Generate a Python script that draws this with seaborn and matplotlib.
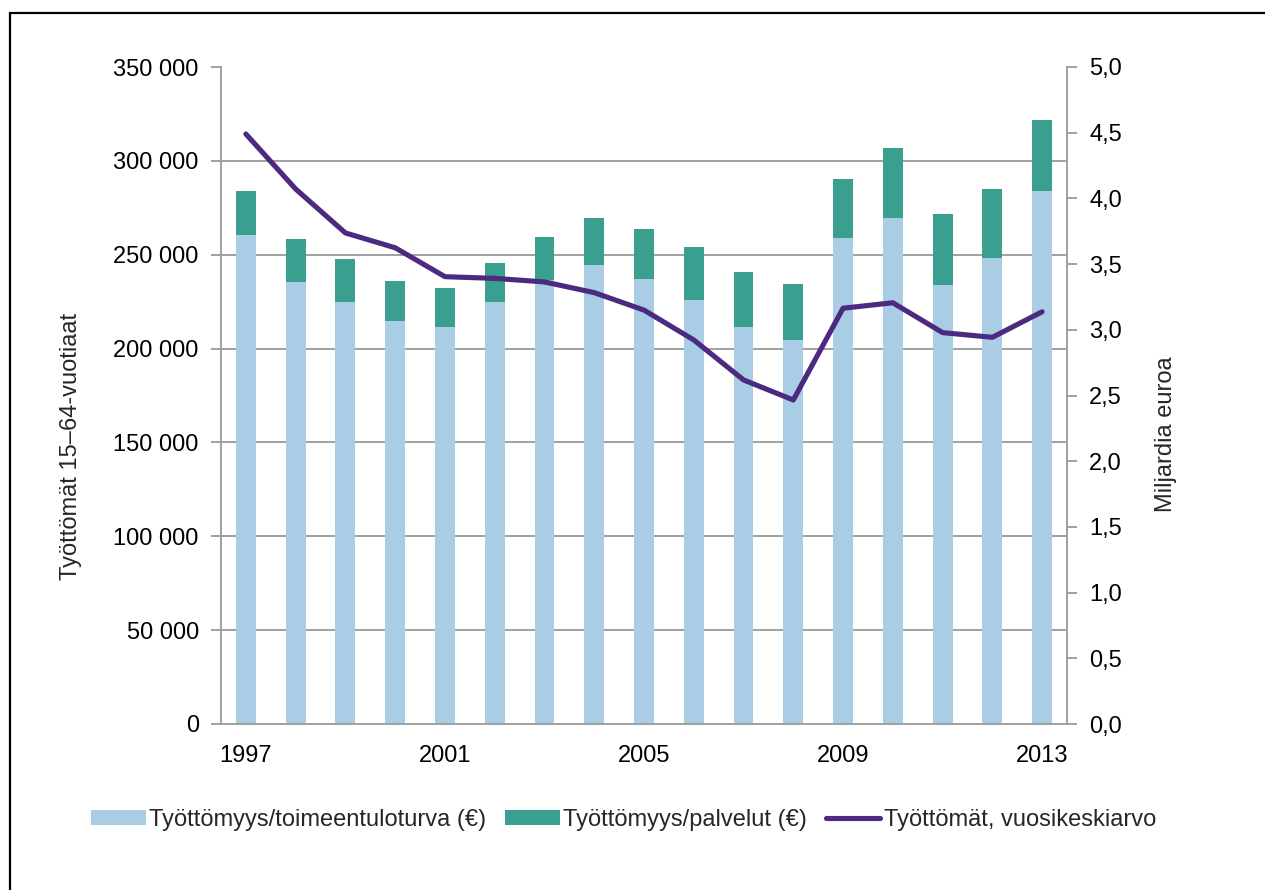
import numpy as np
import matplotlib
matplotlib.use("Agg")
import matplotlib.pyplot as plt
import seaborn as sns
from matplotlib.patches import Patch, Rectangle
from matplotlib.lines import Line2D
from matplotlib.ticker import FuncFormatter, FixedLocator

years = [str(y) for y in range(1997, 2014)]
# billions of euros
toimeentuloturva = [3.72, 3.36, 3.21, 3.07, 3.02, 3.21, 3.38, 3.49, 3.39,
                    3.23, 3.02, 2.92, 3.70, 3.85, 3.34, 3.55, 4.06]
palvelut = [0.34, 0.33, 0.33, 0.30, 0.30, 0.30, 0.33, 0.36, 0.38,
            0.40, 0.42, 0.43, 0.45, 0.53, 0.54, 0.52, 0.54]
# unemployed, annual average
tyottomat = [314300, 285000, 261600, 253700, 238300, 237400, 235500, 229800, 220500,
             204600, 183300, 172600, 221500, 224400, 208500, 206000, 219600]
shown_years = ["1997", "2001", "2005", "2009", "2013"]

light_blue = "#A9CDE5"
teal = "#3A9F8F"
purple = "#4B2A7F"
axis_gray = "#A0A0A0"

sns.set_style("white")
plt.rcParams["font.family"] = ["Liberation Sans", "DejaVu Sans"]

fig = plt.figure(figsize=(12.65, 8.9), dpi=100)
ax = fig.add_axes([221 / 1265, 1 - 724 / 890, 846 / 1265, 657 / 890])
ax2 = ax.twinx()

totals = [a + b for a, b in zip(toimeentuloturva, palvelut)]
sns.barplot(x=years, y=totals, color=teal, width=0.4, saturation=1,
            errorbar=None, linewidth=0, ax=ax)
sns.barplot(x=years, y=toimeentuloturva, color=light_blue, width=0.4, saturation=1,
            errorbar=None, linewidth=0, ax=ax)

idx = np.arange(len(years))
sns.lineplot(x=idx, y=tyottomat, color=purple, linewidth=3.7, ax=ax2,
             solid_capstyle="round", solid_joinstyle="round")

# right axis (euros) for bars, left axis (persons) for line
ax.yaxis.tick_right()
ax.yaxis.set_label_position("right")
ax2.yaxis.tick_left()
ax2.yaxis.set_label_position("left")

ax.set_ylim(0, 5)
ax.set_yticks(np.arange(0, 5.01, 0.5))
ax.yaxis.set_major_formatter(FuncFormatter(lambda v, p: f"{v:.1f}".replace(".", ",")))
ax.yaxis.set_minor_locator(FixedLocator(np.linspace(0, 5, 8)))
ax.grid(False)
ax.grid(which="minor", axis="y", color=axis_gray, linewidth=1.4)
ax.set_axisbelow(True)

ax2.set_ylim(0, 350000)
ax2.set_yticks(range(0, 350001, 50000))
ax2.yaxis.set_major_formatter(FuncFormatter(lambda v, p: f"{int(v):,}".replace(",", " ")))
ax2.grid(False)

ax.set_xlim(-0.5, len(years) - 0.5)
ax.set_xticks([years.index(y) for y in shown_years])
ax.set_xticklabels(shown_years)
ax.set_xticks(np.arange(-0.5, len(years), 1), minor=True)
ax.set_xlabel("")

fs = 17
ax.tick_params(axis="x", which="major", length=0, pad=15, labelsize=fs, colors="black")
ax.tick_params(axis="x", which="minor", length=7, width=1.4, color=axis_gray, direction="out")
ax.tick_params(axis="y", which="major", length=7, width=1.4, color=axis_gray,
               direction="out", pad=9, labelsize=fs, labelcolor="black")
ax.tick_params(axis="y", which="minor", length=0)
ax2.tick_params(axis="y", which="major", length=7, width=1.4, color=axis_gray,
                direction="out", pad=9, labelsize=fs, labelcolor="black")

for s in ["top", "left"]:
    ax.spines[s].set_visible(False)
for s in ["right", "bottom"]:
    ax.spines[s].set_color(axis_gray)
    ax.spines[s].set_linewidth(1.4)
for s in ["top", "right", "bottom"]:
    ax2.spines[s].set_visible(False)
ax2.spines["left"].set_color(axis_gray)
ax2.spines["left"].set_linewidth(1.4)

ax2.set_ylabel("Työttömät 15–64-vuotiaat", fontsize=fs)
ax2.yaxis.set_label_coords(-0.164, 0.423)
ax.set_ylabel("Miljardia euroa", fontsize=fs)
ax.yaxis.set_label_coords(1.104, 0.441)

handles = [Patch(facecolor=light_blue, edgecolor="none"),
           Patch(facecolor=teal, edgecolor="none"),
           Line2D([0], [0], color=purple, linewidth=3.7)]
labels = ["Työttömyys/toimeentuloturva (€)", "Työttömyys/palvelut (€)",
          "Työttömät, vuosikeskiarvo"]
fig.legend(handles, labels, loc="center", bbox_to_anchor=(0.493, 0.079), ncol=3,
           frameon=False, fontsize=fs, handlelength=2.3, handleheight=0.6,
           handletextpad=0.15, columnspacing=0.8)

fig.add_artist(Rectangle((10 / 1265, -0.1), 1.2, 1.1 - 13 / 890, transform=fig.transFigure,
                         fill=False, edgecolor="black", linewidth=1.6))

fig.savefig("out.png", dpi=100)
